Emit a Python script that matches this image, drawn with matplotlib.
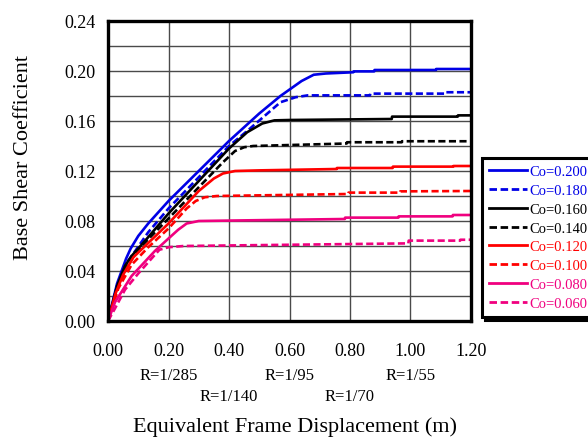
import matplotlib
matplotlib.use("Agg")
import matplotlib.pyplot as plt
from matplotlib.lines import Line2D

plt.rcParams['font.family'] = ['Liberation Serif', 'DejaVu Serif']

# Pushover curves: equivalent frame displacement (m) vs base shear coefficient
x_co200 = [0.0, 0.03, 0.06, 0.075, 0.10, 0.133, 0.20, 0.30, 0.40, 0.50, 0.57, 0.64, 0.68, 0.72, 0.811, 0.812, 0.88, 0.881, 1.084, 1.085, 1.2]
y_co200 = [0.0, 0.030, 0.050, 0.058, 0.068, 0.078, 0.096, 0.120, 0.144, 0.166, 0.180, 0.192, 0.197, 0.198, 0.199, 0.1997, 0.1997, 0.2008, 0.2008, 0.2016, 0.2016]

x_co180 = [0.0, 0.03, 0.06, 0.09, 0.133, 0.20, 0.30, 0.40, 0.46, 0.57, 0.62, 0.66, 0.866, 0.867, 1.114, 1.115, 1.2]
y_co180 = [0.0, 0.028, 0.046, 0.056, 0.071, 0.090, 0.115, 0.140, 0.152, 0.175, 0.179, 0.1805, 0.1805, 0.1819, 0.1819, 0.1830, 0.1830]

x_co160 = [0.0, 0.03, 0.056, 0.078, 0.122, 0.20, 0.30, 0.40, 0.46, 0.51, 0.55, 0.60, 0.938, 0.939, 1.156, 1.157, 1.2]
y_co160 = [0.0, 0.028, 0.044, 0.052, 0.064, 0.086, 0.112, 0.138, 0.151, 0.158, 0.1605, 0.1608, 0.1616, 0.1635, 0.1635, 0.1645, 0.1645]

x_co140 = [0.0, 0.03, 0.06, 0.095, 0.20, 0.30, 0.38, 0.42, 0.45, 0.48, 0.789, 0.790, 0.971, 0.972, 1.2]
y_co140 = [0.0, 0.025, 0.042, 0.056, 0.082, 0.107, 0.127, 0.136, 0.139, 0.140, 0.142, 0.143, 0.143, 0.1438, 0.1438]

x_co120 = [0.0, 0.025, 0.05, 0.084, 0.20, 0.30, 0.35, 0.38, 0.42, 0.50, 0.756, 0.757, 0.941, 0.942, 1.141, 1.142, 1.2]
y_co120 = [0.0, 0.022, 0.037, 0.051, 0.078, 0.104, 0.114, 0.118, 0.120, 0.1205, 0.1216, 0.1224, 0.1224, 0.1235, 0.1235, 0.1240, 0.1240]

x_co100 = [0.0, 0.034, 0.078, 0.133, 0.20, 0.26, 0.29, 0.32, 0.36, 0.794, 0.795, 0.965, 0.966, 1.2]
y_co100 = [0.0, 0.026, 0.045, 0.059, 0.074, 0.090, 0.096, 0.099, 0.100, 0.1016, 0.1027, 0.1027, 0.1037, 0.1040]

x_co080 = [0.0, 0.023, 0.078, 0.155, 0.20, 0.232, 0.26, 0.30, 0.783, 0.784, 0.96, 0.961, 1.139, 1.140, 1.2]
y_co080 = [0.0, 0.015, 0.036, 0.056, 0.066, 0.073, 0.078, 0.080, 0.0816, 0.0827, 0.0827, 0.0837, 0.0837, 0.0848, 0.0848]

x_co060 = [0.0, 0.023, 0.056, 0.10, 0.144, 0.17, 0.20, 0.25, 0.993, 0.994, 1.164, 1.165, 1.2]
y_co060 = [0.0, 0.010, 0.025, 0.038, 0.050, 0.057, 0.059, 0.060, 0.0621, 0.0643, 0.0643, 0.0650, 0.0650]

series = [
    ("Co=0.200", x_co200, y_co200, "#0000e6", "-"),
    ("Co=0.180", x_co180, y_co180, "#0000e6", "--"),
    ("Co=0.160", x_co160, y_co160, "#000000", "-"),
    ("Co=0.140", x_co140, y_co140, "#000000", "--"),
    ("Co=0.120", x_co120, y_co120, "#ff0000", "-"),
    ("Co=0.100", x_co100, y_co100, "#ff0000", "--"),
    ("Co=0.080", x_co080, y_co080, "#f0007f", "-"),
    ("Co=0.060", x_co060, y_co060, "#f0007f", "--"),
]

x_ticks = [0.0, 0.2, 0.4, 0.6, 0.8, 1.0, 1.2]
y_ticks = [0.0, 0.04, 0.08, 0.12, 0.16, 0.20, 0.24]
drift_pos = [0.2, 0.4, 0.6, 0.8, 1.0]
drift_labels = ["R=1/285", "R=1/140", "R=1/95", "R=1/70", "R=1/55"]

DASH = (0, (2.7, 1.3))

fig = plt.figure(figsize=(5.88, 4.39), dpi=100)
ax = fig.add_axes([108 / 588, 1 - 322 / 439, (471 - 108) / 588, (322 - 22) / 439])

# grid every 0.2 m horizontally and every 0.02 vertically
for gx in x_ticks[1:-1]:
    ax.axvline(gx, color="#4a4a4a", lw=1.0, zorder=1)
for k in range(1, 12):
    ax.axhline(k * 0.02, color="#4a4a4a", lw=1.0, zorder=1)

handles = []
for label, xs, ys, color, ls in series:
    style = DASH if ls == "--" else "-"
    ax.plot(xs, ys, color=color, lw=1.9, ls=style, zorder=3)
    handles.append(Line2D([], [], color=color, lw=2.0, ls=style))

ax.set_xlim(0, 1.2)
ax.set_ylim(0, 0.24)
ax.set_xticks(x_ticks)
ax.set_yticks(y_ticks)
ax.set_xticklabels([f"{v:.2f}" for v in x_ticks], fontsize=13)
ax.set_yticklabels([f"{v:.2f}" for v in y_ticks], fontsize=13)
ax.tick_params(axis="x", length=0, pad=15)
ax.tick_params(axis="y", length=0, pad=9)
for sp in ax.spines.values():
    sp.set_linewidth(2.4)
    sp.set_zorder(5)

# drift-ratio annotations under the tick labels, alternating rows
for i, (p, t) in enumerate(zip(drift_pos, drift_labels)):
    yrow = 376 if i % 2 == 0 else 397
    fig.text((108 + p / 1.2 * 363) / 588, 1 - yrow / 439, t,
             ha="center", va="center", fontsize=12)

fig.text(295 / 588, 1 - 427 / 439, "Equivalent Frame Displacement (m)",
         ha="center", va="center", fontsize=16)
fig.text(24 / 588, 1 - 158 / 439, "Base Shear Coefficient",
         ha="center", va="center", rotation=90, fontsize=16)

leg = fig.legend(handles, [s[0] for s in series], loc="upper left",
                 bbox_to_anchor=(482 / 588, 1 - 159 / 439),
                 frameon=True, fancybox=False,
                 shadow={"color": "black", "alpha": 1.0},
                 fontsize=10.5, handlelength=2.6, handletextpad=0.15,
                 labelspacing=0.38, borderpad=0.5, borderaxespad=0)
leg.get_frame().set_edgecolor("black")
leg.get_frame().set_linewidth(2.2)
for txt, s in zip(leg.get_texts(), series):
    txt.set_color(s[3])

fig.savefig("out.png", dpi=100)
